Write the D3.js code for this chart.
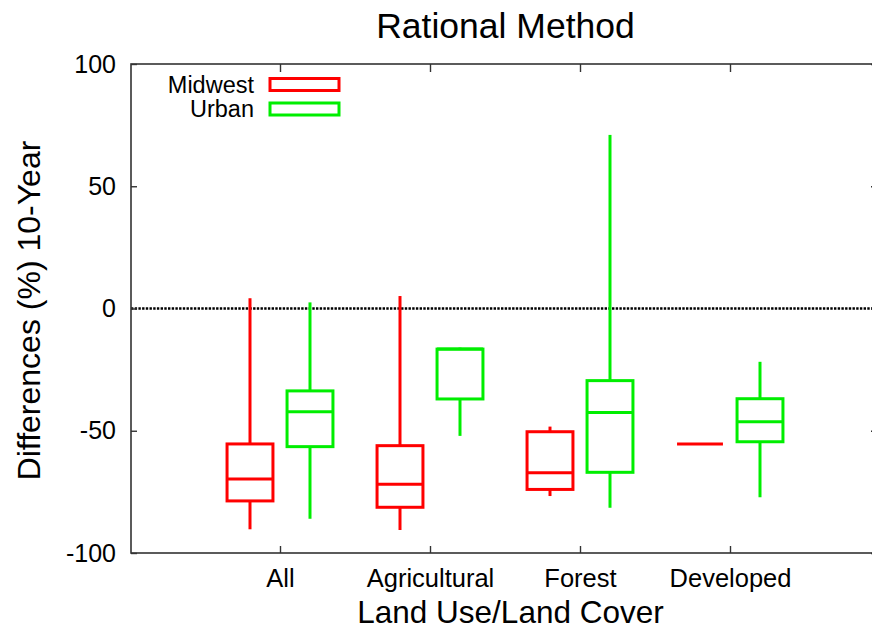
<!DOCTYPE html>
<html><head><meta charset="utf-8">
<script src="https://cdn.jsdelivr.net/npm/d3@7"></script>
<style>body{margin:0;background:#fff}svg{display:block}text{font-family:"Liberation Sans",Arial,sans-serif;fill:#000}</style>
</head><body><svg id="c" width="872" height="632"></svg>
<script>
const categories = ["All", "Agricultural", "Forest", "Developed"];
const seriesNames = ["Midwest", "Urban"];
const seriesColors = ["#ff0000", "#00ee00"];
// [whiskerLow, q1, median, q3, whiskerHigh]
const midwest = [
  [-90.3, -78.7, -69.7, -55.4, 4.2],
  [-90.6, -81.3, -71.9, -56.1, 5.1],
  [-76.7, -74.0, -67.2, -50.4, -48.3],
  [-55.4, -55.4, -55.4, -55.4, -55.4]
];
const urban = [
  [-86.0, -56.5, -42.2, -33.7, 2.5],
  [-52.1, -37.0, -16.6, -16.6, -16.0],
  [-81.5, -67.0, -42.5, -29.5, 71.0],
  [-77.2, -54.5, -46.3, -36.9, -21.8]
];
const yTicks = [-100, -50, 0, 50, 100];

const svg = d3.select("#c");
const L = 131, R = 880, T = 64, B = 553;
const x = d3.scaleLinear().domain([0, 5]).range([130, 880]);
const y = d3.scaleLinear().domain([-100, 100]).range([B, T]);
const offsets = [-0.2, 0.2];
const halfW = 0.153;

// zero line
svg.append("line").attr("x1", L).attr("x2", R).attr("y1", y(0)).attr("y2", y(0))
  .attr("stroke", "#000").attr("stroke-width", 2.6).attr("stroke-dasharray", "2.4,1.3");

// frame
svg.append("rect").attr("x", L).attr("y", T).attr("width", R - L).attr("height", B - T)
  .attr("fill", "none").attr("stroke", "#333").attr("stroke-width", 1.6);

// y axis ticks (left and mirrored right)
const yAxL = d3.axisLeft(y).tickValues(yTicks).tickSize(-6).tickPadding(15).tickFormat(d => String(d));
const gy = svg.append("g").attr("transform", `translate(${L},0)`).call(yAxL);
gy.select(".domain").remove();
gy.selectAll("line").attr("stroke", "#333").attr("stroke-width", 1.4);
gy.selectAll("text").attr("font-size", 25).attr("font-family", "Liberation Sans, Arial, sans-serif").attr("fill", "#000");
const yAxR = d3.axisRight(y).tickValues(yTicks).tickSize(-6).tickFormat("");
const gyr = svg.append("g").attr("transform", `translate(${R - 3},0)`).call(yAxR);
gyr.select(".domain").remove();
gyr.selectAll("line").attr("stroke", "#333").attr("stroke-width", 1.4);

// x axis ticks
const xAx = d3.axisBottom(x).tickValues([1, 2, 3, 4]).tickSize(-7).tickPadding(16).tickFormat(d => categories[d - 1]);
const gx = svg.append("g").attr("transform", `translate(0,${B})`).call(xAx);
gx.select(".domain").remove();
gx.selectAll("line").attr("stroke", "#333").attr("stroke-width", 1.4);
gx.selectAll("text").attr("font-size", 25.5).attr("font-family", "Liberation Sans, Arial, sans-serif").attr("fill", "#000");
const xAxT = d3.axisTop(x).tickValues([1, 2, 3, 4]).tickSize(-8).tickFormat("");
const gxt = svg.append("g").attr("transform", `translate(0,${T})`).call(xAxT);
gxt.select(".domain").remove();
gxt.selectAll("line").attr("stroke", "#333").attr("stroke-width", 1.4);

// boxes
[midwest, urban].forEach((series, si) => {
  const col = seriesColors[si];
  const g = svg.append("g").attr("stroke", col).attr("stroke-width", 3).attr("fill", "none");
  series.forEach((s, i) => {
    const cx = x(i + 1 + offsets[si]);
    const x0 = x(i + 1 + offsets[si] - halfW), x1 = x(i + 1 + offsets[si] + halfW);
    const [lo, q1, med, q3, hi] = s;
    if (hi > q3) g.append("line").attr("x1", cx).attr("x2", cx).attr("y1", y(q3)).attr("y2", y(hi));
    if (lo < q1) g.append("line").attr("x1", cx).attr("x2", cx).attr("y1", y(q1)).attr("y2", y(lo));
    if (q3 > q1) g.append("rect").attr("x", x0).attr("y", y(q3)).attr("width", x1 - x0).attr("height", y(q1) - y(q3));
    g.append("line").attr("x1", x0).attr("x2", x1).attr("y1", y(med)).attr("y2", y(med));
  });
});

// legend
seriesNames.forEach((n, i) => {
  const yy = 84.5 + i * 24.5;
  svg.append("text").attr("x", 254).attr("y", yy).attr("dy", "0.36em").attr("text-anchor", "end")
    .attr("font-size", 23.5).text(n);
  svg.append("rect").attr("x", 270).attr("y", yy - 6).attr("width", 69).attr("height", 12)
    .attr("fill", "none").attr("stroke", seriesColors[i]).attr("stroke-width", 3);
});

// title and axis labels
svg.append("text").attr("x", 505.5).attr("y", 38).attr("text-anchor", "middle").attr("font-size", 35.5).text("Rational Method");
svg.append("text").attr("x", 510.5).attr("y", 623).attr("text-anchor", "middle").attr("font-size", 31.5).text("Land Use/Land Cover");
svg.append("text").attr("transform", `translate(40,${(T + B) / 2 + 2}) rotate(-90)`).attr("text-anchor", "middle")
  .attr("font-size", 32).text("Differences (%) 10-Year");
</script></body></html>
